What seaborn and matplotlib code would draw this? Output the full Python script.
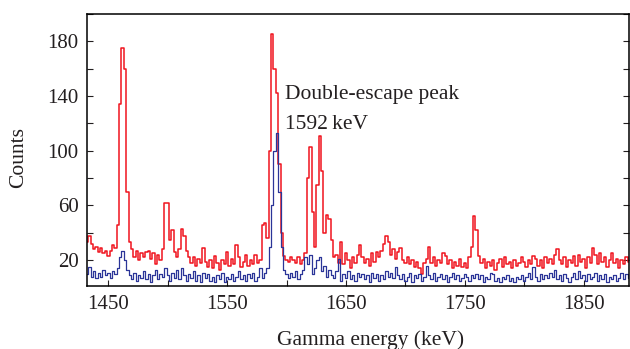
#!/usr/bin/env python3

import numpy as np
import pandas as pd
import seaborn as sns
import matplotlib.pyplot as plt
from matplotlib.ticker import MultipleLocator

# channel centres (2 keV bins)
energy_start = 1432
bin_width = 2

counts_red = [
    33, 38, 32, 28, 30, 26, 29, 25, 27, 23, 27, 31, 29, 46, 134, 175, 160, 70, 33, 28,
    22, 27, 20, 25, 22, 26, 27, 21, 25, 17, 24, 20, 28, 62, 62, 35, 42, 26, 22, 28,
    43, 38, 27, 22, 18, 22, 16, 21, 18, 29, 19, 15, 20, 14, 23, 18, 13, 20, 17, 26,
    16, 21, 17, 31, 22, 15, 19, 24, 16, 20, 17, 24, 18, 20, 46, 47, 36, 100, 185, 160,
    142, 90, 40, 23, 20, 19, 22, 20, 18, 22, 17, 20, 25, 80, 103, 55, 30, 75, 111, 85,
    40, 53, 50, 35, 22, 24, 18, 33, 17, 25, 20, 14, 22, 18, 24, 31, 22, 18, 21, 16,
    25, 19, 26, 22, 27, 32, 38, 33, 24, 28, 21, 26, 29, 20, 18, 22, 17, 20, 15, 19,
    14, 10, 18, 21, 30, 18, 22, 16, 20, 18, 25, 23, 17, 20, 14, 19, 16, 21, 15, 18,
    14, 22, 30, 52, 42, 23, 18, 21, 14, 19, 16, 20, 13, 18, 21, 15, 22, 17, 19, 14,
    20, 16, 18, 22, 19, 15, 20, 17, 23, 21, 16, 20, 14, 22, 18, 21, 17, 24, 28, 20,
    17, 22, 15, 20, 18, 23, 16, 24, 19, 21, 14, 22, 18, 29, 24, 17, 25, 19, 22, 15,
    20, 25, 18, 21, 14, 20, 17, 22, 19, 21,
]

counts_blue = [
    10, 15, 8, 12, 7, 11, 8, 13, 9, 11, 7, 12, 10, 14, 22, 27, 20, 13, 9, 6,
    11, 5, 9, 7, 12, 6, 10, 4, 9, 13, 6, 10, 8, 14, 9, 5, 11, 7, 13, 6,
    14, 9, 5, 10, 7, 12, 5, 9, 4, 11, 7, 10, 5, 8, 4, 9, 6, 11, 4, 8,
    6, 10, 5, 8, 12, 6, 9, 5, 10, 7, 11, 5, 8, 14, 7, 11, 14, 30, 60, 100,
    113, 70, 30, 13, 10, 7, 11, 8, 12, 6, 10, 13, 22, 17, 24, 10, 14, 20, 22, 12,
    16, 8, 13, 9, 7, 12, 21, 5, 10, 7, 12, 6, 9, 5, 11, 8, 10, 6, 9, 4,
    11, 7, 10, 5, 9, 6, 12, 8, 11, 7, 15, 9, 6, 10, 5, 8, 11, 4, 9, 7,
    10, 5, 8, 16, 9, 6, 11, 5, 8, 10, 6, 9, 4, 8, 11, 6, 9, 5, 7, 10,
    8, 5, 9, 7, 10, 6, 9, 4, 8, 6, 11, 10, 5, 7, 4, 8, 6, 9, 5, 7,
    4, 8, 6, 9, 5, 8, 11, 6, 15, 8, 5, 10, 6, 9, 7, 11, 8, 13, 6, 9,
    5, 10, 7, 4, 8, 11, 6, 12, 7, 9, 5, 10, 6, 8, 11, 5, 9, 6, 10, 4,
    8, 6, 9, 5, 7, 11, 6, 10, 7, 9,
]

energy = energy_start + bin_width * np.arange(len(counts_red))

df = pd.DataFrame({"energy": energy, "red": counts_red, "blue": counts_blue})

sns.set_style("ticks")
plt.rcParams["font.family"] = ["Liberation Serif", "DejaVu Serif"]
plt.rcParams["text.color"] = "#231f20"
plt.rcParams["axes.labelcolor"] = "#231f20"
plt.rcParams["xtick.color"] = "#231f20"
plt.rcParams["ytick.color"] = "#231f20"

fig = plt.figure(figsize=(6.3, 3.49), dpi=100)
ax = fig.add_axes([0.138, 0.18, 0.86, 0.78])

sns.lineplot(data=df, x="energy", y="red", ax=ax, color="#f0141e",
             linewidth=1.1, drawstyle="steps-mid")
sns.lineplot(data=df, x="energy", y="blue", ax=ax, color="#2b3598",
             linewidth=0.9, drawstyle="steps-mid")

ax.set_xlim(1432, 1888)
ax.set_ylim(1, 200)
ax.set_xticks(np.arange(1450, 1900, 100))
ax.set_yticks(np.arange(20, 200, 40))
ax.xaxis.set_minor_locator(MultipleLocator(50))
ax.yaxis.set_minor_locator(MultipleLocator(20))

ax.tick_params(which="both", direction="in", length=4, width=0.8,
               right=True, top=False, labelsize=15, pad=6)
for side in ax.spines.values():
    side.set_linewidth(1.1)
    side.set_color("black")

ax.set_xlabel("Gamma energy (keV)", fontsize=15.5)
ax.set_ylabel("Counts", fontsize=15.5)
ax.xaxis.set_label_coords(0.524, -0.162, transform=ax.transAxes)
ax.yaxis.set_label_coords(-0.109, 0.474, transform=ax.transAxes)

ax.text(1599, 141, "Double-escape peak", fontsize=15.5, va="center", ha="left")
ax.text(1599, 119, "1592\u2009keV", fontsize=15.5, va="center", ha="left")

plt.savefig("out.png", dpi=100)
